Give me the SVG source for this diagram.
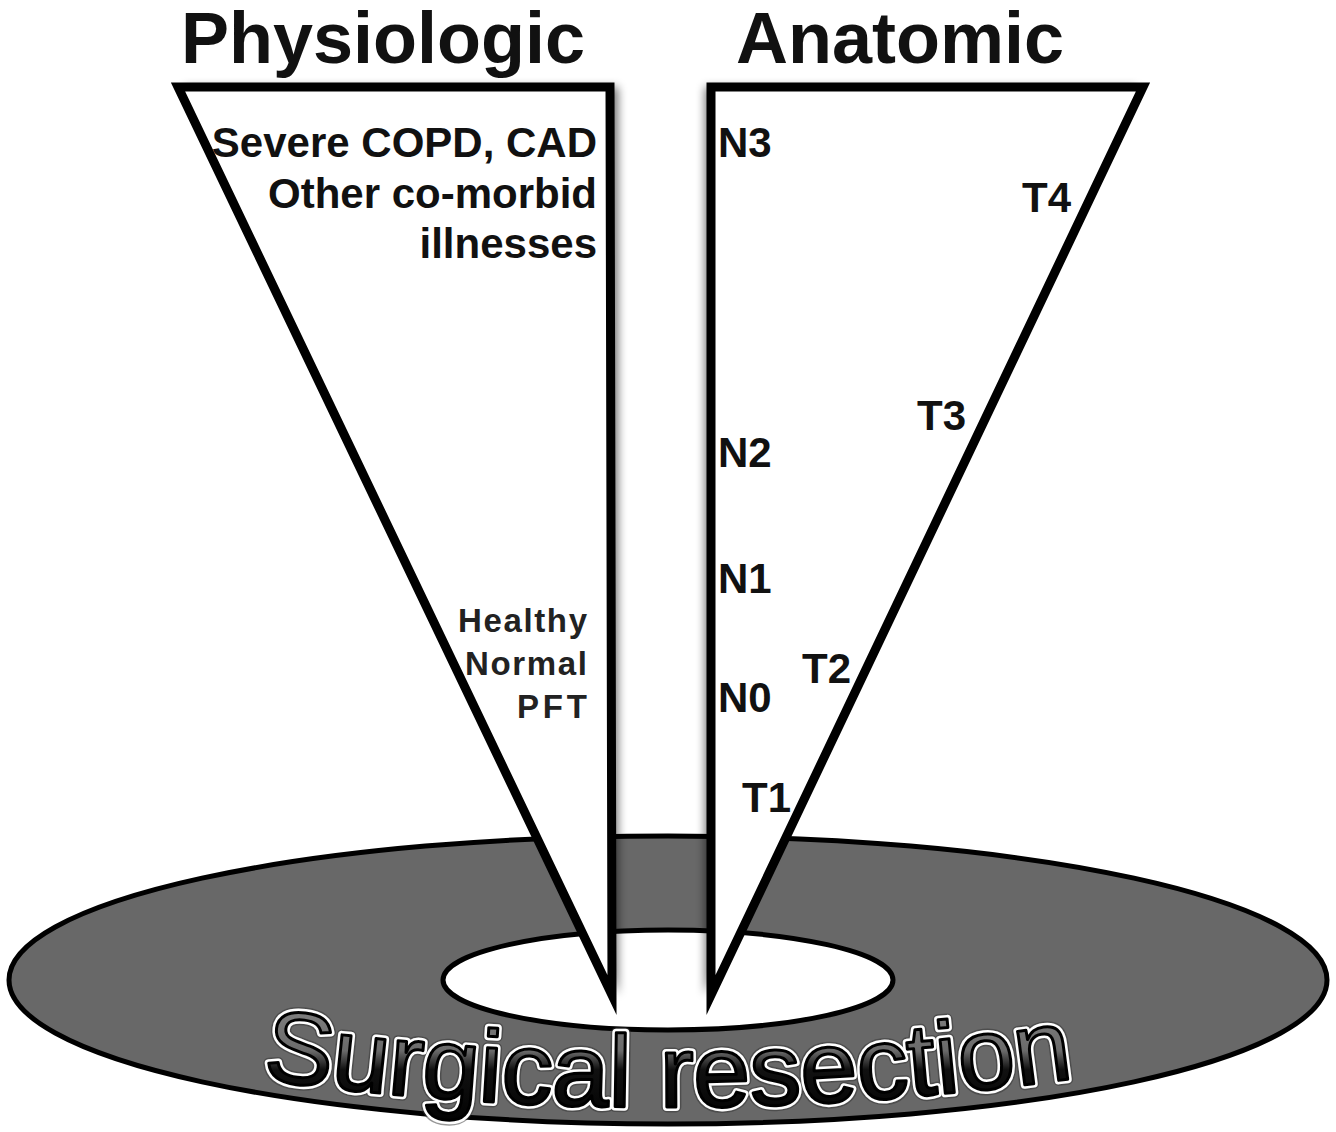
<svg xmlns="http://www.w3.org/2000/svg" width="1336" height="1132" viewBox="0 0 1336 1132">
<style>
  .title{font-family:"Liberation Sans",Arial,sans-serif;font-weight:bold;font-size:72px;fill:#111;text-anchor:middle}
  .lbl{font-family:"Liberation Sans",Arial,sans-serif;font-weight:bold;font-size:42px;fill:#111}
  .sm{font-family:"Liberation Sans",Arial,sans-serif;font-weight:bold;font-size:33px;fill:#222;text-anchor:end}
  .cone{fill:#fff;stroke:#000;stroke-width:9;stroke-linejoin:miter;stroke-miterlimit:10}
  .shadow{fill:#000;opacity:0.55}
  .disc{fill:#686868;stroke:#000;stroke-width:5}
  .hole{fill:#fff;stroke:#000;stroke-width:5}
  .sr{font-family:"Liberation Sans",Arial,sans-serif;font-size:102px}
</style>
<defs>
  <filter id="blur" x="-20%" y="-20%" width="140%" height="140%">
    <feGaussianBlur stdDeviation="5"/>
  </filter>
  <linearGradient id="srFill" x1="0" y1="0" x2="0" y2="1">
    <stop offset="0" stop-color="#8a8a8a"/>
    <stop offset="0.45" stop-color="#6a6a6a"/>
    <stop offset="0.58" stop-color="#111"/>
    <stop offset="1" stop-color="#000"/>
  </linearGradient>
  <path id="arc" d="M 262 1079 Q 670 1136 1082 1077"/>
</defs>
<rect width="1336" height="1132" fill="#fff"/>

<g id="resection-disc">
  <ellipse class="disc" cx="668" cy="980" rx="659" ry="144"/>
  <ellipse class="hole" cx="668" cy="980" rx="225" ry="50"/>
</g>

<g id="physiologic-cone">
  <polygon class="shadow" filter="url(#blur)" points="184,87 618,87 618,995" />
  <polygon class="cone" points="178,87 610,87 612,995"/>
  <text class="lbl" text-anchor="end" x="597" y="157">Severe COPD, CAD</text>
  <text class="lbl" text-anchor="end" x="597" y="208">Other co-morbid</text>
  <text class="lbl" text-anchor="end" x="597" y="258">illnesses</text>
  <text class="sm" x="587" y="632" textLength="129" lengthAdjust="spacing">Healthy</text>
  <text class="sm" x="587" y="675" textLength="122" lengthAdjust="spacing">Normal</text>
  <text class="sm" x="587" y="718" textLength="70" lengthAdjust="spacing">PFT</text>
</g>

<g id="anatomic-cone">
  <polygon class="shadow" filter="url(#blur)" points="705,87 1137,87 705,995" />
  <polygon class="cone" points="711,87 1143,87 711,995"/>
  <text class="lbl" x="718" y="157">N3</text>
  <text class="lbl" x="1022" y="212">T4</text>
  <text class="lbl" x="917" y="430">T3</text>
  <text class="lbl" x="718" y="467">N2</text>
  <text class="lbl" x="718" y="593">N1</text>
  <text class="lbl" x="802" y="683">T2</text>
  <text class="lbl" x="718" y="712">N0</text>
  <text class="lbl" x="742" y="812">T1</text>
</g>

<g id="physiologic-title">
  <text class="title" x="383" y="63">Physiologic</text>
</g>
<g id="anatomic-title">
  <text class="title" x="900" y="63">Anatomic</text>
</g>

<g id="resection-label">
  <text class="sr" fill="none" stroke="#333" stroke-width="11" stroke-linejoin="round" opacity="0.5"><textPath href="#arc" textLength="815" lengthAdjust="spacingAndGlyphs">Surgical resection</textPath></text>
  <text class="sr" fill="none" stroke="#fff" stroke-width="8" stroke-linejoin="round"><textPath href="#arc" textLength="815" lengthAdjust="spacingAndGlyphs">Surgical resection</textPath></text>
  <text class="sr" fill="url(#srFill)" stroke="#000" stroke-width="3" stroke-linejoin="round"><textPath href="#arc" textLength="815" lengthAdjust="spacingAndGlyphs">Surgical resection</textPath></text>
</g>

<g id="connectors"/>
</svg>
